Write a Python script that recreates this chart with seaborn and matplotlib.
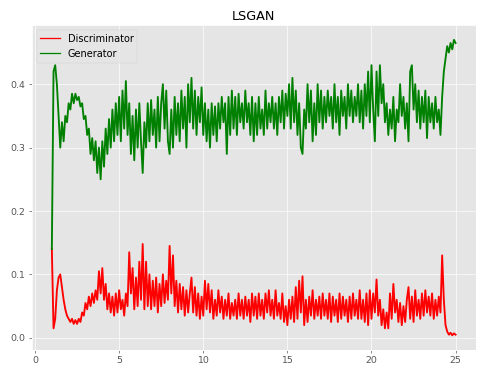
import numpy as np
import pandas as pd
import seaborn as sns
import matplotlib.pyplot as plt


# losses, one value every 0.1 epoch from 1.0 to 25.0
gen_loss = [
    0.14, 0.42, 0.43, 0.40, 0.35, 0.30, 0.34, 0.31, 0.35, 0.34,
    0.37, 0.36, 0.385, 0.37, 0.385, 0.375, 0.38, 0.365, 0.37, 0.345,
    0.35, 0.32, 0.33, 0.29, 0.315, 0.28, 0.31, 0.26, 0.30, 0.25,
    0.31, 0.27, 0.33, 0.29, 0.345, 0.30, 0.36, 0.31, 0.37, 0.32,
    0.38, 0.31, 0.39, 0.33, 0.405, 0.32, 0.37, 0.29, 0.35, 0.28,
    0.36, 0.30, 0.37, 0.31, 0.26, 0.34, 0.30, 0.37, 0.31, 0.375,
    0.32, 0.36, 0.30, 0.38, 0.31, 0.37, 0.40, 0.33, 0.39, 0.31,
    0.29, 0.36, 0.30, 0.38, 0.32, 0.37, 0.31, 0.39, 0.33, 0.38,
    0.30, 0.40, 0.34, 0.41, 0.33, 0.39, 0.32, 0.38, 0.34, 0.395,
    0.32, 0.37, 0.31, 0.36, 0.30, 0.37, 0.32, 0.365, 0.31, 0.37,
    0.33, 0.38, 0.34, 0.37, 0.29, 0.38, 0.32, 0.39, 0.33, 0.38,
    0.32, 0.385, 0.34, 0.37, 0.33, 0.39, 0.34, 0.37, 0.32, 0.38,
    0.31, 0.37, 0.32, 0.38, 0.33, 0.36, 0.32, 0.39, 0.33, 0.37,
    0.34, 0.38, 0.33, 0.37, 0.32, 0.38, 0.34, 0.39, 0.33, 0.385,
    0.35, 0.40, 0.33, 0.41, 0.34, 0.39, 0.32, 0.37, 0.30, 0.29,
    0.36, 0.33, 0.40, 0.34, 0.39, 0.31, 0.37, 0.32, 0.40, 0.34,
    0.39, 0.33, 0.38, 0.34, 0.39, 0.35, 0.38, 0.33, 0.40, 0.34,
    0.38, 0.32, 0.39, 0.35, 0.38, 0.33, 0.40, 0.35, 0.39, 0.34,
    0.38, 0.35, 0.40, 0.34, 0.39, 0.33, 0.40, 0.35, 0.42, 0.34,
    0.43, 0.36, 0.31, 0.42, 0.35, 0.43, 0.37, 0.40, 0.34, 0.37,
    0.32, 0.36, 0.33, 0.38, 0.31, 0.36, 0.34, 0.40, 0.35, 0.38,
    0.33, 0.37, 0.31, 0.42, 0.43, 0.36, 0.40, 0.34, 0.39, 0.33,
    0.38, 0.34, 0.39, 0.315, 0.38, 0.34, 0.37, 0.33, 0.38, 0.34,
    0.36, 0.32, 0.38, 0.42, 0.44, 0.46, 0.45, 0.465, 0.455, 0.47,
    0.465,
]

disc_loss = [
    0.14, 0.015, 0.03, 0.075, 0.095, 0.10, 0.08, 0.06, 0.045, 0.035,
    0.03, 0.025, 0.03, 0.022, 0.028, 0.022, 0.03, 0.025, 0.04, 0.035,
    0.055, 0.045, 0.065, 0.05, 0.07, 0.055, 0.075, 0.06, 0.105, 0.07,
    0.11, 0.06, 0.085, 0.045, 0.07, 0.04, 0.065, 0.035, 0.07, 0.04,
    0.075, 0.045, 0.06, 0.035, 0.07, 0.05, 0.135, 0.07, 0.11, 0.045,
    0.095, 0.05, 0.12, 0.06, 0.148, 0.045, 0.12, 0.05, 0.10, 0.045,
    0.09, 0.05, 0.095, 0.04, 0.085, 0.05, 0.10, 0.055, 0.09, 0.06,
    0.145, 0.07, 0.13, 0.05, 0.09, 0.04, 0.085, 0.045, 0.08, 0.035,
    0.075, 0.04, 0.07, 0.095, 0.04, 0.08, 0.035, 0.07, 0.03, 0.065,
    0.035, 0.09, 0.045, 0.085, 0.04, 0.075, 0.03, 0.06, 0.035, 0.075,
    0.04, 0.065, 0.03, 0.06, 0.035, 0.07, 0.03, 0.055, 0.035, 0.06,
    0.03, 0.07, 0.035, 0.06, 0.03, 0.065, 0.035, 0.06, 0.025, 0.07,
    0.035, 0.065, 0.03, 0.07, 0.035, 0.06, 0.03, 0.07, 0.04, 0.075,
    0.035, 0.06, 0.03, 0.075, 0.035, 0.055, 0.03, 0.07, 0.025, 0.05,
    0.02, 0.06, 0.03, 0.065, 0.025, 0.08, 0.03, 0.09, 0.04, 0.097,
    0.02, 0.06, 0.025, 0.065, 0.035, 0.075, 0.03, 0.06, 0.035, 0.065,
    0.03, 0.07, 0.035, 0.06, 0.03, 0.07, 0.025, 0.065, 0.035, 0.06,
    0.025, 0.07, 0.03, 0.065, 0.035, 0.06, 0.025, 0.065, 0.03, 0.07,
    0.035, 0.06, 0.03, 0.075, 0.03, 0.06, 0.025, 0.07, 0.02, 0.075,
    0.03, 0.07, 0.04, 0.092, 0.035, 0.06, 0.02, 0.045, 0.015, 0.04,
    0.015, 0.07, 0.03, 0.085, 0.04, 0.06, 0.025, 0.055, 0.02, 0.05,
    0.025, 0.06, 0.08, 0.03, 0.065, 0.025, 0.075, 0.035, 0.06, 0.03,
    0.07, 0.035, 0.075, 0.04, 0.065, 0.035, 0.07, 0.03, 0.06, 0.035,
    0.065, 0.04, 0.13, 0.06, 0.02, 0.01, 0.005, 0.008, 0.004, 0.007,
    0.005,
]

epochs = np.linspace(1.0, 25.0, len(gen_loss))

df = pd.concat([
    pd.DataFrame({"epoch": epochs, "loss": disc_loss, "model": "Discriminator"}),
    pd.DataFrame({"epoch": epochs, "loss": gen_loss, "model": "Generator"}),
], ignore_index=True)

plt.style.use("ggplot")

fig = plt.figure(figsize=(487 / 61, 374 / 61), dpi=61)
ax = fig.add_axes([0.065, 0.064, 0.912, 0.869])

sns.lineplot(data=df, x="epoch", y="loss", hue="model",
             palette={"Discriminator": "red", "Generator": "green"},
             estimator=None, sort=False, linewidth=2.2, ax=ax)

ax.set_title("LSGAN", fontsize=15)
ax.set_xlabel("")
ax.set_ylabel("")
ax.tick_params(labelsize=11)
sns.move_legend(ax, "upper left", title=None, fontsize=11.5)
for line in ax.get_legend().get_lines():
    line.set_linewidth(1.5)

plt.savefig("out.png", dpi=61)
plt.close()
